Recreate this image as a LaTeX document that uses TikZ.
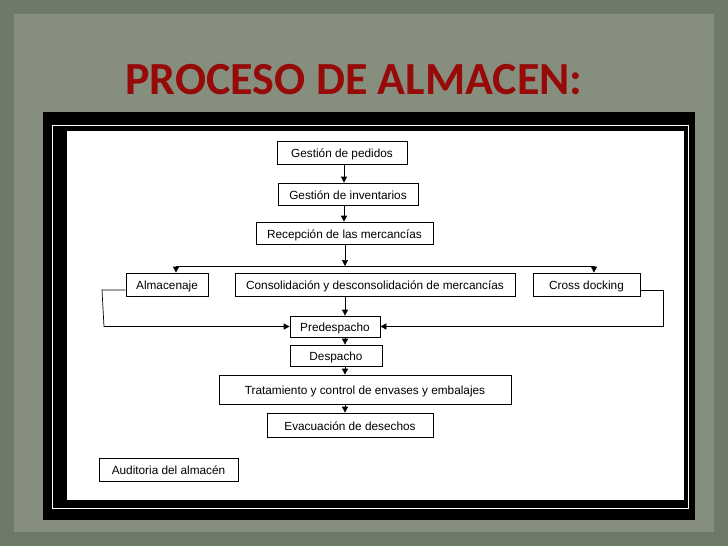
\documentclass[tikz,border=0pt]{standalone}
\usepackage{fontspec}
\setmainfont{Liberation Sans}
\newfontfamily\titlefont{Carlito}
\usetikzlibrary{arrows.meta}
\begin{document}
\begin{tikzpicture}[x=1pt,y=-1pt,
  bx/.style={draw,line width=0.7pt,inner sep=0pt,text height=11pt,text depth=1pt,font=\fontsize{11.8}{13}\selectfont},
  ar/.style={-{Triangle[length=6pt,width=6pt]},line width=0.7pt}]
\useasboundingbox (0,0) rectangle (728,546);
\fill[fill={rgb,255:red,110;green,122;blue,104}] (0,0) rectangle (728,546);
\fill[fill={rgb,255:red,134;green,143;blue,126}] (14,14) rectangle (714,532);
\node[font=\titlefont\bfseries\fontsize{46}{48}\selectfont,text={rgb,255:red,150;green,10;blue,10}] (title) at (354,80) {PROCESO DE ALMACEN:};
\fill[black] (43,112) rectangle (695,520);
\draw[white,line width=1pt] (52,125) rectangle (688,508);
\fill[white] (67,131) rectangle (684,500);
\node[bx,minimum width=130,minimum height=23] (a) at (342,152.5) {Gestión de pedidos};
\node[bx,minimum width=140,minimum height=22] (b) at (348,194) {Gestión de inventarios};
\node[bx,minimum width=177,minimum height=22] (c) at (344.5,233) {Recepción de las mercancías};
\node[bx,minimum width=82,minimum height=23] (d) at (167,284.5) {Almacenaje};
\node[bx,minimum width=280,minimum height=23] (e) at (375,284.5) {Consolidación y desconsolidación de mercancías};
\node[bx,minimum width=107,minimum height=23] (f) at (586.5,284.5) {Cross docking};
\node[bx,minimum width=90,minimum height=21] (g) at (335,326.5) {Predespacho};
\node[bx,minimum width=92,minimum height=21] (h) at (336,355.5) {Despacho};
\node[bx,minimum width=292,minimum height=29] (i) at (365,389.5) {Tratamiento y control de envases y embalajes};
\node[bx,minimum width=166,minimum height=24] (j) at (350,425) {Evacuación de desechos};
\node[bx,minimum width=139,minimum height=23] (k) at (168.5,469.5) {Auditoria del almacén};
\draw[ar] (a.south -| 344,0) -- (b.north -| 344,0);
\draw[ar] (b.south -| 344,0) -- (c.north -| 344,0);
\coordinate (s) at (345,266);
\draw[ar] (c.south -| s) -- (s);
\draw[line width=0.7pt] (176,266) -- (594,266);
\draw[ar] (176,266) -- (d.north -| 176,0);
\draw[ar] (594,266) -- (f.north -| 594,0);
\draw[ar] (e.south -| 345,0) -- (g.north -| 345,0);
\draw[ar] (d.west |- 0,290) -- (102,290) -- (104,326.5) -- (g.west);
\draw[ar] (f.east |- 0,290) -- (663,290) -- (663,326.5) -- (g.east);
\draw[ar] (g.south -| 345,0) -- (h.north -| 345,0);
\draw[ar] (h.south -| 345,0) -- (i.north -| 345,0);
\draw[ar] (i.south -| 345,0) -- (j.north -| 345,0);
\end{tikzpicture}
\end{document}
